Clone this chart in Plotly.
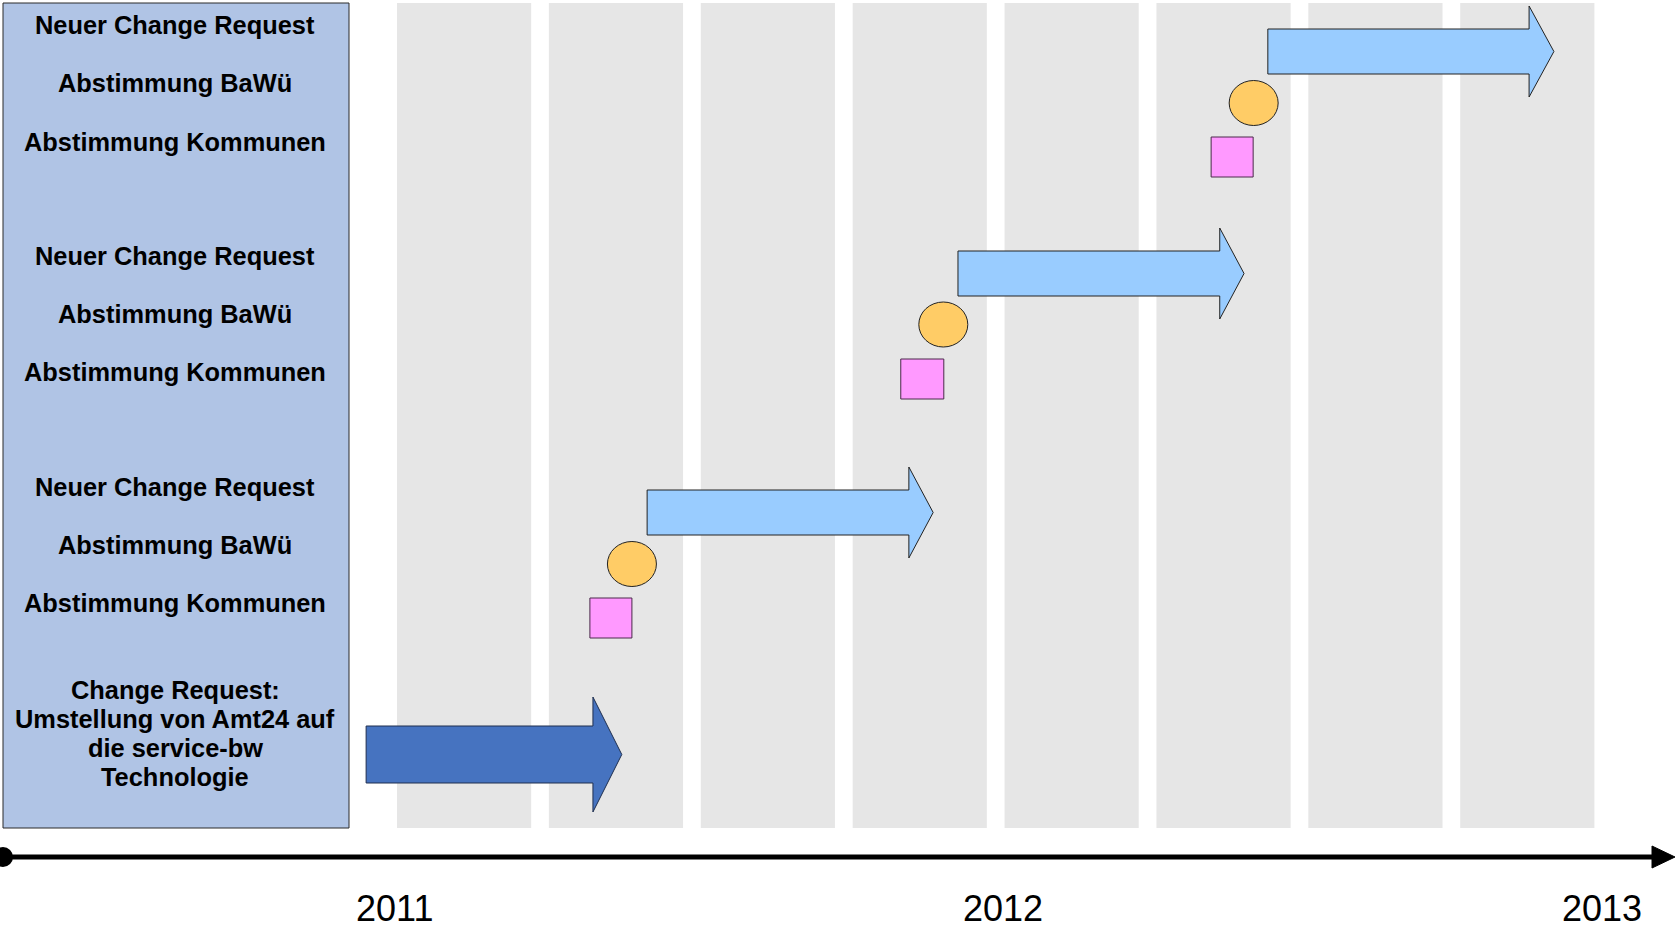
import plotly.graph_objects as go

# ---------------- data (time in months since Jan 2011) ----------------
years = ["2011", "2012", "2013"]
year_month = [-0.04, 11.97, 23.8]

quarter_start = [0, 3, 6, 9, 12, 15, 18, 21]
quarter_len = 2.65

round_labels = ["Neuer Change Request", "Abstimmung BaWü", "Abstimmung Kommunen"]
initial_cr_lines = ["Change Request:", "Umstellung von Amt24 auf", "die service-bw", "Technologie"]

# initial change request arrow
main_start, main_body_end, main_tip = -0.61, 3.87, 4.44
# follow-up change request rounds
cr_start = [4.94, 11.08, 17.20]
cr_body_end = [10.11, 16.25, 22.36]
cr_tip = [10.59, 16.73, 22.85]
bawue_month = [4.64, 10.79, 16.92]          # Abstimmung BaWü (circle)
kommunen_start = [3.81, 9.95, 16.08]        # Abstimmung Kommunen (square)
kommunen_end = [4.64, 10.80, 16.91]

# ---------------- layout constants (pixels) ----------------
W, H = 1675, 931
X0_PX, PX_PER_MONTH = 397.0, 50.63
def px2m(p):
    return (p - X0_PX) / PX_PER_MONTH

round_y = [
    dict(bt=490, bb=535, ht=467, hb=558, cy=564, st=598, sb=638, txt=[487, 545, 602.5]),
    dict(bt=251, bb=296, ht=228, hb=319, cy=324.5, st=359, sb=399, txt=[256, 314, 372]),
    dict(bt=29, bb=74, ht=6, hb=97, cy=103, st=137, sb=177, txt=[24.6, 83, 141.5]),
]

GRAY = "#E6E6E6"
BOX = "#B0C4E5"
LIGHT = "#99CCFF"
DARK = "#4673C0"
ORANGE = "#FFCC66"
PINK = "#FF99FF"
FONT = "Liberation Sans, Arial, sans-serif"
LBL_SIZE = 25.4

fig = go.Figure()
fig.add_trace(go.Scatter(x=[px2m(0), px2m(W)], y=[0, H], mode="markers",
                         marker=dict(opacity=0), hoverinfo="skip", showlegend=False))

shapes = []
for q in quarter_start:
    shapes.append(dict(type="rect", xref="x", yref="y", x0=q, x1=q + quarter_len,
                       y0=3, y1=828, fillcolor=GRAY, line=dict(width=0), layer="below"))
shapes.append(dict(type="rect", xref="x", yref="y", x0=px2m(3), x1=px2m(349), y0=3, y1=828,
                   fillcolor=BOX, line=dict(color="#2a2a2a", width=1), layer="below"))

def arrow_path(x0, xb, tip, bt, bb, ht, hb):
    ym = (ht + hb) / 2
    return (f"M {x0},{bt} L {xb},{bt} L {xb},{ht} L {tip},{ym} "
            f"L {xb},{hb} L {xb},{bb} L {x0},{bb} Z")

shapes.append(dict(type="path", xref="x", yref="y",
                   path=arrow_path(main_start, main_body_end, main_tip, 726, 783, 697, 812),
                   fillcolor=DARK, line=dict(color="#1f2f4f", width=1)))

rx = 24.5 / PX_PER_MONTH
for i in range(3):
    r = round_y[i]
    shapes.append(dict(type="path", xref="x", yref="y",
                       path=arrow_path(cr_start[i], cr_body_end[i], cr_tip[i],
                                       r["bt"], r["bb"], r["ht"], r["hb"]),
                       fillcolor=LIGHT, line=dict(color="#222222", width=1)))
    shapes.append(dict(type="circle", xref="x", yref="y",
                       x0=bawue_month[i] - rx, x1=bawue_month[i] + rx,
                       y0=r["cy"] - 22.5, y1=r["cy"] + 22.5,
                       fillcolor=ORANGE, line=dict(color="#222222", width=1)))
    shapes.append(dict(type="rect", xref="x", yref="y",
                       x0=kommunen_start[i], x1=kommunen_end[i], y0=r["st"], y1=r["sb"],
                       fillcolor=PINK, line=dict(color="#4a2a4a", width=1)))

# timeline
shapes.append(dict(type="line", xref="x", yref="y", x0=px2m(3), x1=px2m(1655), y0=857, y1=857,
                   line=dict(color="black", width=5)))
shapes.append(dict(type="path", xref="x", yref="y",
                   path=f"M {px2m(1652)},{846} L {px2m(1675)},{857} L {px2m(1652)},{868} Z",
                   fillcolor="black", line=dict(color="black", width=1)))
shapes.append(dict(type="circle", xref="x", yref="y", x0=px2m(-7), x1=px2m(13), y0=847, y1=867,
                   fillcolor="black", line=dict(color="black", width=0)))

annotations = []
cx = px2m(175)
for i in range(3):
    for lab, y in zip(round_labels, round_y[i]["txt"]):
        annotations.append(dict(x=cx, y=y, xref="x", yref="y", text=f"<b>{lab}</b>",
                                showarrow=False, xanchor="center", yanchor="middle",
                                font=dict(family=FONT, size=LBL_SIZE, color="black")))
for lab, y in zip(initial_cr_lines, [690, 719, 748, 776.6]):
    annotations.append(dict(x=cx, y=y, xref="x", yref="y", text=f"<b>{lab}</b>",
                            showarrow=False, xanchor="center", yanchor="middle",
                            font=dict(family=FONT, size=LBL_SIZE, color="black")))
for lab, m in zip(years, year_month):
    annotations.append(dict(x=m, y=908, xref="x", yref="y", text=lab, showarrow=False,
                            xanchor="center", yanchor="middle",
                            font=dict(family=FONT, size=36, color="black")))

fig.update_layout(
    width=W, height=H, margin=dict(l=0, r=0, t=0, b=0),
    paper_bgcolor="white", plot_bgcolor="white",
    xaxis=dict(range=[px2m(0), px2m(W)], visible=False, fixedrange=True),
    yaxis=dict(range=[H, 0], visible=False, fixedrange=True),
    shapes=shapes, annotations=annotations, showlegend=False,
)

fig.write_html("out.html", post_script="document.body.style.margin='0';",
               config={"displayModeBar": False})
